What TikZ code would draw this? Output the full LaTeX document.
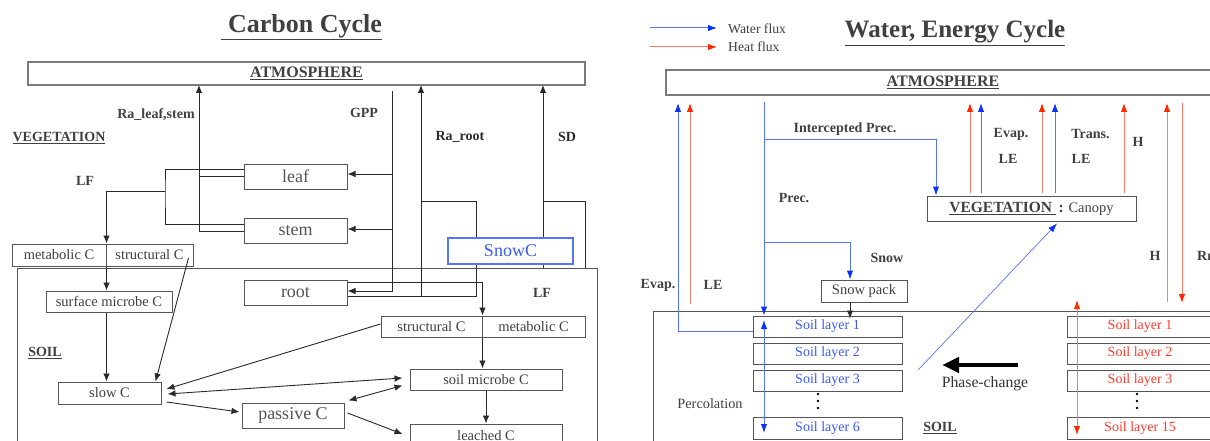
\documentclass[tikz,border=0pt]{standalone}
\usepackage{fontspec}
\setmainfont{Liberation Serif}
\usetikzlibrary{arrows.meta,calc}
\definecolor{txt}{HTML}{404040}
\definecolor{edgec}{HTML}{555555}
\definecolor{atmc}{HTML}{7A7A7A}
\definecolor{lnc}{HTML}{2A2A2A}
\definecolor{bl}{HTML}{5674FF}
\definecolor{blh}{HTML}{0A32FF}
\definecolor{rd}{HTML}{FF7B6B}
\definecolor{rdh}{HTML}{FF2A00}
\definecolor{bltxt}{HTML}{3A5AF5}
\definecolor{rdtxt}{HTML}{FF3B2E}
\tikzset{
 box/.style={draw=edgec, line width=1pt, fill=white, inner sep=0pt, text=txt, font=\fontsize{14.5}{16}\selectfont},
 bigbox/.style={box, text=lnc!80, font=\fontsize{18}{20}\selectfont},
 atmbox/.style={box, draw=atmc, line width=1.4pt, font=\fontsize{16}{18}\selectfont\bfseries},
 lbl/.style={text=txt, inner sep=0pt, font=\fontsize{14}{16}\selectfont\bfseries},
 plaintxt/.style={text=txt, inner sep=0pt, font=\fontsize{14.5}{16}\selectfont},
 lnk/.style={draw=lnc, line width=0.9pt},
 arr/.style={lnk, -{Latex[length=8pt,width=6.5pt]}},
 darr/.style={lnk, {Latex[length=8pt,width=6.5pt]}-{Latex[length=8pt,width=6.5pt]}},
 bline/.style={draw=bl, line width=1pt},
 barr/.style={bline, -{Latex[length=9pt,width=6.5pt,color=blh]}},
 bdarr/.style={bline, {Latex[length=9pt,width=6.5pt,color=blh]}-{Latex[length=9pt,width=6.5pt,color=blh]}},
 rline/.style={draw=rd, line width=1pt},
 rarr/.style={rline, -{Latex[length=9pt,width=6.5pt,color=rdh]}},
 rdarr/.style={rline, {Latex[length=9pt,width=6.5pt,color=rdh]}-{Latex[length=9pt,width=6.5pt,color=rdh]}},
 bluelayer/.style={box, text=bltxt, minimum width=149pt, minimum height=21pt, font=\fontsize{14}{16}\selectfont},
 redlayer/.style={box, text=rdtxt, minimum width=146pt, minimum height=21pt, font=\fontsize{14}{16}\selectfont},
 frame/.style={draw=edgec, line width=1pt},
}
\begin{document}
\begin{tikzpicture}[x=1pt,y=-1pt]
\useasboundingbox (0,0) rectangle (1210,441);
\clip (0,0) rectangle (1210,441);
\fill[white] (0,0) rectangle (1210,441);

% ================= CARBON CYCLE =================
\node[text=txt, inner sep=0pt, font=\fontsize{26}{28}\selectfont\bfseries] (titleC) at (301.5,27) {\underline{\hspace{7pt}Carbon Cycle}};
\node[atmbox, minimum width=557pt, minimum height=23pt] (atmC) at (306.5,73.5) {\underline{ATMOSPHERE}};

\draw[frame] (17,268) rectangle (597,480);

\node[bigbox, minimum width=103pt, minimum height=25pt] (leaf) at (295.5,176.5) {leaf};
\node[bigbox, minimum width=103pt, minimum height=25pt] (stem) at (295.5,230.5) {stem};
\node[bigbox, minimum width=103pt, minimum height=25pt] (root) at (295.5,292.5) {root};
\node[box, minimum width=94pt, minimum height=22pt] (metC) at (59,255) {metabolic C};
\node[box, minimum width=87pt, minimum height=22pt] (strC) at (149.5,255) {structural C};
\node[box, minimum width=126pt, minimum height=21pt] (surf) at (109,301.5) {surface microbe C};
\node[box, minimum width=103pt, minimum height=22pt] (slow) at (109.5,393) {slow C};
\node[bigbox, minimum width=102pt, minimum height=25pt] (passive) at (293,415.5) {passive C};
\node[box, minimum width=101pt, minimum height=21pt] (strS) at (431.5,326.5) {structural C};
\node[box, minimum width=103pt, minimum height=21pt] (metS) at (533.5,326.5) {metabolic C};
\node[box, minimum width=152pt, minimum height=21pt] (micro) at (486,379.5) {soil microbe C};
\node[box, minimum width=152pt, minimum height=23pt] (leached) at (486,435.5) {leached C};
\node[box, draw=bl, text=bltxt, line width=1.1pt, minimum width=125pt, minimum height=26pt, font=\fontsize{18}{20}\selectfont] (snowC) at (510.5,251) {SnowC};

% GPP
\coordinate (gpp) at (392,91);
\coordinate (leafR) at ([yshift=2.5pt]leaf.east);
\coordinate (stemR) at ([yshift=1.5pt]stem.east);
\coordinate (rootR0) at ([yshift=1.5pt]root.east);
\draw[arr] (gpp) |- (rootR0);
\draw[arr] (gpp |- leafR) -- (leafR);
\draw[arr] (gpp |- stemR) -- (stemR);

% Ra leaf,stem
\coordinate (raL) at (199,85);
\coordinate (stemL2) at ([yshift=-0.5pt]stem.west);
\draw[arr] (stemL2) -| (raL);
\draw[lnk] (leaf.west) -- (leaf.west -| raL);

% LF bracket
\coordinate (leafL1) at ([yshift=7.5pt]leaf.west);
\coordinate (stemL1) at ([yshift=6.5pt]stem.west);
\coordinate (lfx) at (165,191);
\draw[lnk] (leafL1) -| (lfx) |- (stemL1);
\draw[arr] (lfx) -| (metC.north east);

% surface litter
\draw[arr] (metC.south east) -- (metC.south east |- surf.north);
\draw[arr] (surf.south -| metC.east) -- (slow.north -| metC.east);
\draw[arr] ([xshift=-5pt,yshift=-3pt]strC.east) -- ([xshift=-6pt]slow.north east);

% soil pools
\draw[arr] ([yshift=2.5pt]strS.west) -- ([xshift=5pt,yshift=4pt]slow.east);
\draw[darr] ([xshift=6pt,yshift=-1pt]slow.east) -- ([xshift=-7pt,yshift=1.5pt]micro.west);
\draw[arr] ([xshift=5pt,yshift=-9pt]slow.east) -- ([xshift=-2pt,yshift=3.5pt]passive.west);
\draw[darr] ([xshift=4pt,yshift=2pt]passive.north east) -- ([xshift=-7pt,yshift=5pt]micro.south west);
\draw[arr] ([xshift=3pt,yshift=2.5pt]passive.east) -- ([xshift=-7pt,yshift=1.5pt]leached.west);
\draw[arr] (micro.south) -- (leached.north);
\draw[arr] (strS.south east) -- (strS.south east |- micro.north);

% root -> soil litter
\coordinate (rootR1) at ([yshift=10.5pt]root.east);
\draw[arr] (rootR1) -| (strS.north east);

% Ra root and SnowC
\coordinate (raR) at (421,85);
\coordinate (rootR2) at ([yshift=-3.5pt]root.east);
\coordinate (snowB) at ([xshift=-34.5pt]snowC.south);
\coordinate (snowT) at ([xshift=-34.5pt]snowC.north);
\coordinate (j1) at (421,201);
\draw[arr] (rootR2) -| (raR);
\draw[lnk] (raR |- rootR2) -| (snowB);
\draw[lnk] (j1) -| (snowT);

% SD
\coordinate (sd) at (543,85);
\coordinate (sdJ) at (543,201);
\coordinate (sdB) at (543,268);
\coordinate (sdR) at (585,268);
\draw[arr] (sdJ |- snowC.north) -- (sd);
\draw[lnk] (sdJ |- snowC.south) -- (sdB);
\draw[lnk] (sdJ) -| (sdR);

% carbon labels
\node[lbl] (lRaL) at (156,115) {Ra\_leaf,stem};
\node[lbl] (lVegC) at (59,138) {\underline{VEGETATION}};
\node[lbl] (lLF1) at (85,181) {LF};
\node[lbl] (lGPP) at (364,113) {GPP};
\node[lbl, text=lnc] (lRaR) at (460,137) {Ra\_root};
\node[lbl, text=lnc] (lSD) at (567,137) {SD};
\node[lbl] (lSoilC) at (45,353) {\underline{SOIL}};
\node[lbl] (lLF2) at (542,293) {LF};

% ================= WATER, ENERGY CYCLE =================
\coordinate (lw1) at (650,28); \coordinate (lw2) at (717,28);
\draw[barr] (lw1) -- (lw2);
\node[plaintxt, anchor=west, font=\fontsize{13.7}{15}\selectfont] (lwT) at (728,29) {Water flux};
\coordinate (lh1) at (650,47); \coordinate (lh2) at (717,47);
\draw[rarr] (lh1) -- (lh2);
\node[plaintxt, anchor=west, font=\fontsize{13.7}{15}\selectfont] (lhT) at (728,47) {Heat flux};

\node[text=txt, inner sep=0pt, font=\fontsize{25}{27}\selectfont\bfseries] (titleW) at (955,33) {\underline{Water, Energy Cycle}};
\node[atmbox, minimum width=554pt, minimum height=25pt] (atmW) at (943,82.5) {\underline{ATMOSPHERE}};

\draw[frame] (653,311) rectangle (1240,480);

\node[box, minimum width=209pt, minimum height=25pt] (vegW) at (1031.5,208.5) {{\bfseries\fontsize{15.5}{17}\selectfont\underline{VEGETATION\ }\,:} Canopy};
\node[box, minimum width=86pt, minimum height=22pt] (snowP) at (864,291) {Snow pack};

\node[bluelayer] (bl1) at (827.5,326.5) {Soil layer 1};
\node[bluelayer] (bl2) at (827.5,353.5) {Soil layer 2};
\node[bluelayer] (bl3) at (827.5,380.5) {Soil layer 3};
\node[bluelayer, minimum height=22pt] (bl6) at (827.5,428) {Soil layer 6};
\node[redlayer] (rl1) at (1140,326.5) {Soil layer 1};
\node[redlayer] (rl2) at (1140,353.5) {Soil layer 2};
\node[redlayer] (rl3) at (1140,380.5) {Soil layer 3};
\node[redlayer, minimum height=22pt] (rl15) at (1140,428) {Soil layer 15};
\foreach \yy in {394,401,408} {
  \fill[black] (818,\yy) circle[radius=1.4pt];
  \fill[black] (1137,\yy) circle[radius=1.4pt];
}

% soil evaporation / LE
\coordinate (evS) at (678,103);
\coordinate (bl1L) at ([yshift=-4.5pt]bl1.west);
\draw[barr] (bl1L) -| (evS);
\coordinate (leS1) at (690,304); \coordinate (leS2) at (690,103);
\draw[rarr] (leS1) -- (leS2);

% precipitation
\coordinate (prec) at (764,102);
\draw[barr] (prec) -- (prec |- bl1.north);
\coordinate (ip) at (764,140);
\draw[barr] (ip) -| ([xshift=-95.5pt]vegW.north);
\coordinate (sn) at (764,242);
\draw[barr] (sn) -| ([xshift=-14pt]snowP.north);
\coordinate (spB) at ([xshift=-14pt]snowP.south);
\draw[arr] (spB) -- ([yshift=-3pt]spB |- bl1.north);
\coordinate (pc1) at (764,320); \coordinate (pc2) at (764,433);
\draw[bdarr] (pc1) -- (pc2);

% canopy fluxes
\foreach \xx/\kind in {970/rarr,981/barr,1042/rarr,1055/barr,1124/rarr} {
  \coordinate (cb\xx) at (\xx,193); \coordinate (ct\xx) at (\xx,103);
  \draw[\kind] (cb\xx) -- (ct\xx);
}
% ground heat / radiation
\coordinate (hb) at (1167,302); \coordinate (ht) at (1167,103);
\draw[rarr] (hb) -- (ht);
\coordinate (rt) at (1182,103); \coordinate (rb) at (1182,303);
\draw[rarr] (rt) -- (rb);
\coordinate (sh1) at (1077,300); \coordinate (sh2) at (1077,435);
\draw[rdarr] (sh1) -- (sh2);

% soil to canopy
\coordinate (sv) at (918,370);
\draw[draw=bl, line width=0.7pt, -{Latex[length=9pt,width=6.5pt,color=blh]}] (sv) -- ([xshift=25.5pt,yshift=-2pt]vegW.south);

% phase change
\coordinate (ph1) at (1018,365); \coordinate (ph2) at (942,365);
\draw[line width=4.3pt, black, -{Triangle[length=17pt,width=15pt]}] (ph1) -- (ph2);

% water labels
\node[lbl] (lIP) at (845,129) {Intercepted Prec.};
\node[lbl] (lPrec) at (794,198) {Prec.};
\node[lbl] (lSnow) at (887,258) {Snow};
\node[lbl] (lEvS) at (658,285) {Evap.};
\node[lbl] (lLES) at (713,285) {LE};
\node[plaintxt, font=\fontsize{14.3}{16}\selectfont] (lPerc) at (710,404) {Percolation};
\node[lbl] (lEvC) at (1011,134) {Evap.};
\node[lbl] (lLEC) at (1008,159) {LE};
\node[lbl] (lTr) at (1090.5,134) {Trans.};
\node[lbl] (lLET) at (1081,159) {LE};
\node[lbl] (lH1) at (1138,142) {H};
\node[lbl] (lH2) at (1155,256) {H};
\node[lbl, anchor=west] (lRn) at (1197,256) {Rn};
\node[plaintxt, text=black!80, font=\fontsize{15.7}{17}\selectfont] (lPh) at (985,384) {Phase-change};
\node[lbl] (lSoilW) at (940,428) {\underline{SOIL}};
\end{tikzpicture}
\end{document}
